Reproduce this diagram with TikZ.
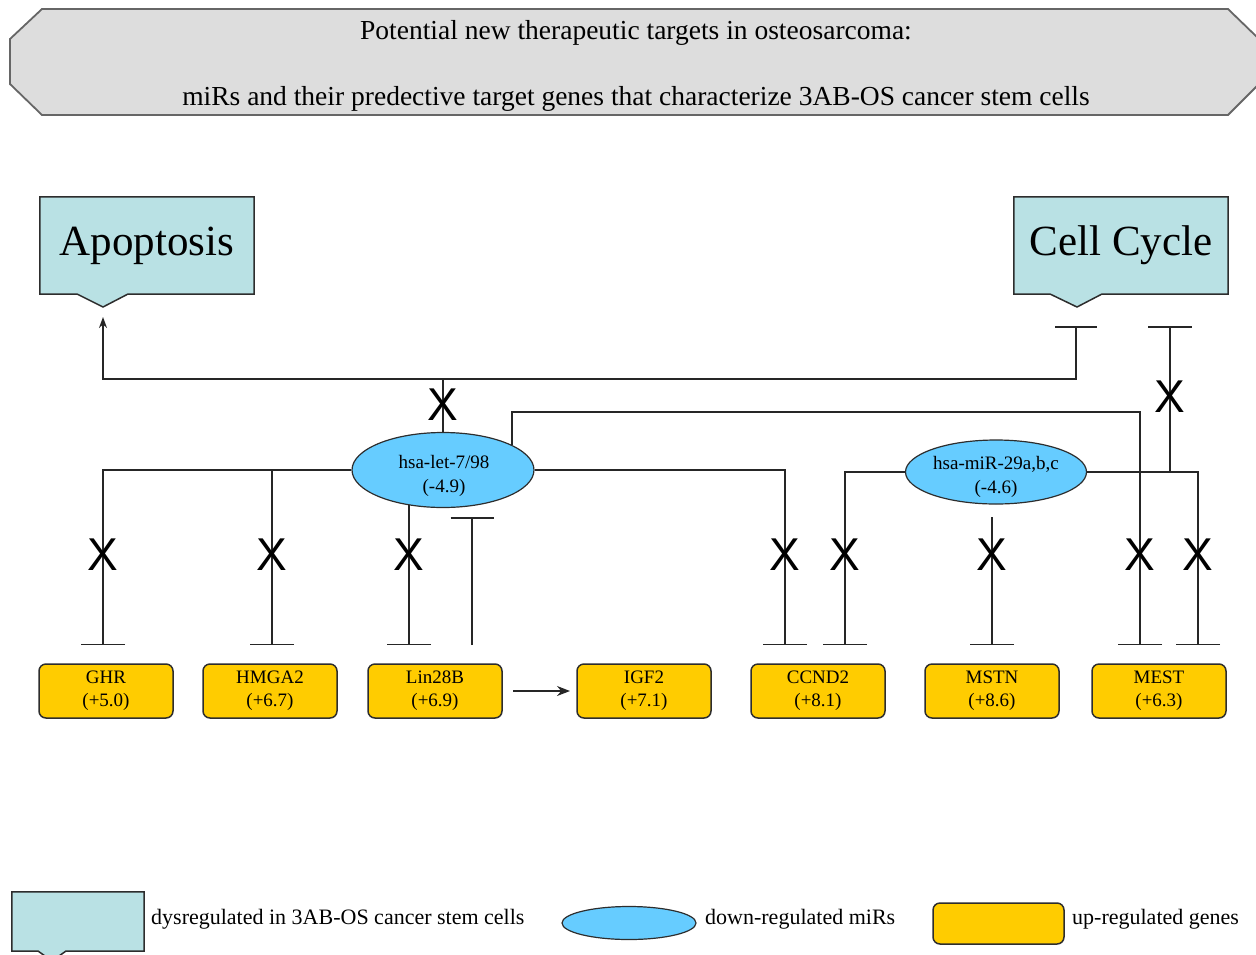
\documentclass[tikz,border=0pt]{standalone}
\usepackage{fontspec}
\setmainfont{Liberation Serif}
\newfontfamily\markfont{Liberation Sans}
\usetikzlibrary{arrows.meta}
\usetikzlibrary{positioning, shapes.geometric, backgrounds}

\definecolor{dysreg}{RGB}{185,225,228}
\definecolor{mirblue}{RGB}{102,204,255}
\definecolor{genegold}{RGB}{255,204,0}
\definecolor{bannergray}{RGB}{221,221,221}
\definecolor{edgegray}{RGB}{45,45,45}

\tikzset{
  link/.style={line width=1.5pt, draw=black!85},
  inhib/.style={link, -{Bar[width=44pt]}},
  banner/.style={draw=black!60, line width=1.8pt, fill=bannergray},
  titletext/.style={font=\fontsize{27.5}{27.5}\selectfont},
  procbox/.style={minimum width=214pt, minimum height=97pt, inner sep=0pt,
    font=\fontsize{43}{43}\selectfont},
  procfill/.style={draw=edgegray, line width=1.5pt, fill=dysreg},
  mir/.style={ellipse, draw=edgegray, line width=1.2pt, fill=mirblue, inner sep=0pt},
  mirtext/.style={align=center, inner sep=0pt, font=\fontsize{19}{24}\selectfont},
  gene/.style={draw=edgegray, line width=1.5pt, fill=genegold, rounded corners=7pt,
    minimum width=134pt, minimum height=54pt, outer sep=0pt, inner sep=0pt,
    align=center, font=\fontsize{19}{23}\selectfont},
  xmark/.style={inner sep=0pt, font=\markfont\fontsize{46}{46}\selectfont},
  legendtext/.style={anchor=west, inner sep=0pt, font=\fontsize{22}{22}\selectfont},
}

\begin{document}
\begin{tikzpicture}[x=1pt, y=-1pt]
  \useasboundingbox (0,0) rectangle (1256,954);

  % title banner
  \draw[banner] (42,9) -- (1228,9) -- (1259,39) -- (1259,84) -- (1228,115)
    -- (42,115) -- (10,84) -- (10,39) -- cycle;
  \node[titletext] (title1) at (636,33) {Potential new therapeutic targets in osteosarcoma:};
  \node[titletext] (title2) at (636,99) {miRs and their predective target genes that characterize 3AB-OS cancer stem cells};

  % processes
  \node[procbox] (apop) at (147,245.5) {Apoptosis};
  \node[procbox] (cellcyc) at (1121,245.5) {Cell Cycle};
  \begin{scope}[on background layer]
    \draw[procfill] (apop.north west) -- (apop.north east) -- (apop.south east)
      -- (128,294) -- (103,307) -- (77,294) -- (apop.south west) -- cycle;
    \draw[procfill] (cellcyc.north west) -- (cellcyc.north east) -- (cellcyc.south east)
      -- (1102,294) -- (1077,307) -- (1050,294) -- (cellcyc.south west) -- cycle;
  \end{scope}

  % miRs
  \node[mir, minimum width=182pt, minimum height=75pt] (let7) at (443,470) {};
  \node[mirtext] (let7 text) at (444,476) {hsa-let-7/98\\(-4.9)};
  \node[mir, minimum width=181pt, minimum height=64pt] (mir29) at (996,472) {};
  \node[mirtext] (mir29 text) at (996,477) {hsa-miR-29a,b,c\\(-4.6)};

  % genes
  \node[gene] (ghr) at (106,691) {GHR\\(+5.0)};
  \node[gene, right=30pt of ghr] (hmga2) {HMGA2\\(+6.7)};
  \node[gene, right=31pt of hmga2] (lin28b) {Lin28B\\(+6.9)};
  \node[gene, right=75pt of lin28b] (igf2) {IGF2\\(+7.1)};
  \node[gene, right=40pt of igf2] (ccnd2) {CCND2\\(+8.1)};
  \node[gene, right=40pt of ccnd2] (mstn) {MSTN\\(+8.6)};
  \node[gene, right=33pt of mstn] (mest) {MEST\\(+6.3)};

  % end points
  \coordinate (bus) at (0,379);
  \coordinate (top run) at (0,412);
  \coordinate (apop tip) at (103,317);
  \coordinate (cc stop1) at (1076,326);
  \coordinate (cc stop2) at (1170,326);
  \coordinate (let7 stop) at (472,517);
  \coordinate (mstn from) at (992,517);
  \coordinate (ghr in) at (103,645);
  \coordinate (hmga2 in) at (272,645);
  \coordinate (lin28b in) at (409,645);
  \coordinate (lin28b out) at (472,645);
  \coordinate (ccnd2 in1) at (785,645);
  \coordinate (ccnd2 in2) at (845,645);
  \coordinate (mstn in) at (992,645);
  \coordinate (mest in1) at (1140,645);
  \coordinate (mest in2) at (1198,645);

  % connectors
  \draw[link, {Bar[width=42pt]}-{Stealth[length=11pt,width=8pt]}]
    (cc stop1) |- (apop tip |- bus) -- (apop tip);
  \draw[link] (let7.north) -- (let7.north |- bus);
  \draw[inhib] (let7.west) -| (ghr in);
  \draw[inhib] (hmga2 in |- let7.west) -- (hmga2 in);
  \draw[inhib] (lin28b in |- let7.225) -- (lin28b in);
  \draw[link, -{Bar[width=43pt]}] (lin28b out) -- (let7 stop);
  \draw[inhib] (let7.east) -| (ccnd2 in1);
  \draw[inhib] (let7.20) |- (mest in1 |- top run) -- (mest in1);
  \draw[inhib] (mir29.west) -| (ccnd2 in2);
  \draw[inhib] (mstn from) -- (mstn in);
  \draw[inhib] (mir29.east) -| (mest in2);
  \draw[inhib] (cc stop2 |- mir29.east) -- (cc stop2);
  \draw[link, -{Stealth[length=13pt,width=10pt]}, shorten <=11pt, shorten >=7pt]
    (lin28b) -- (igf2);

  % blocked links
  \foreach \px/\py [count=\i] in {443/405, 1170/397, 103/555, 272/555, 409/555,
      785/555, 845/555, 992/555, 1140/555, 1198/555}
    \node[xmark] (cross\i) at (\px,\py) {X};

  % legend
  \node[minimum width=132pt, minimum height=59pt, inner sep=0pt] (leg dys) at (78,921.5) {};
  \begin{scope}[on background layer]
    \draw[procfill] (leg dys.north west) -- (leg dys.north east) -- (leg dys.south east)
      -- (66,951) -- (52,961) -- (38,951) -- (leg dys.south west) -- cycle;
  \end{scope}
  \node[legendtext] (leg dys text) at (151,919) {dysregulated in 3AB-OS cancer stem cells};
  \node[mir, minimum width=134pt, minimum height=33pt] (leg mir) at (629,923) {};
  \node[legendtext] (leg mir text) at (705,919) {down-regulated miRs};
  \node[gene, minimum width=131pt, minimum height=41pt] (leg gene) at (998.5,923.5) {};
  \node[legendtext] (leg gene text) at (1072,919) {up-regulated genes};
\end{tikzpicture}
\end{document}
